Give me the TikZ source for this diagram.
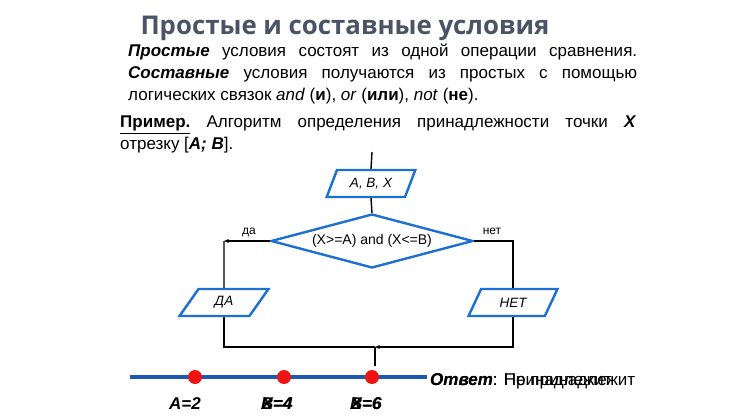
\documentclass[tikz,border=0pt]{standalone}
\usepackage{fontspec}
\setmainfont{Liberation Sans}
\newfontfamily\titlefont{Open Sans}
\usetikzlibrary{shapes.geometric, arrows.meta, positioning}

\definecolor{titlegray}{RGB}{74,84,102}
\definecolor{shapeblue}{RGB}{28,112,210}
\definecolor{axisblue}{RGB}{28,88,180}
\definecolor{dotred}{RGB}{238,20,20}

\begin{document}
\begin{tikzpicture}[
		x=1pt, y=-1pt,
		txtline/.style={anchor=base west, inner sep=0pt, font=\fontsize{17}{20}\selectfont},
		iobox/.style={trapezium, trapezium left angle=60, trapezium right angle=120, trapezium stretches=true,
			draw=shapeblue, line width=2.4pt, minimum width=89pt, minimum height=27pt, inner sep=0pt,
			font=\fontsize{13.5}{15}\selectfont\itshape},
		condbox/.style={diamond, shape aspect=3.74, draw=shapeblue, line width=2.4pt, minimum width=202pt, minimum height=54pt,
			inner sep=0pt, font=\fontsize{14}{16}\selectfont},
		flow/.style={draw=black, line width=1.4pt},
		flowarrow/.style={flow, -{Stealth[length=5pt, width=4pt]}},
		branch/.style={font=\fontsize{12}{14}\selectfont, inner sep=0pt},
		point/.style={circle, fill=dotred, minimum size=14pt, inner sep=0pt},
		ptlabel/.style={anchor=base, inner sep=0pt, font=\fontsize{17}{19}\selectfont\bfseries\itshape},
		answer/.style={anchor=base west, inner sep=0pt, font=\fontsize{17}{19}\selectfont}
		]
		\useasboundingbox[fill=white] (0,0) rectangle (750,420);
		
		% ==========================================
		% 1. HEADING AND TEXT
		% ==========================================
		\node[anchor=base, inner sep=0pt, font=\titlefont\fontsize{25.8}{30}\selectfont\bfseries, text=titlegray]
		(title) at (345,35) {Простые и составные условия};
		
		\node[txtline] (line-1) at (128,57) {\makebox[509pt][s]{\textbf{\textit{Простые}} условия состоят из одной операции сравнения.}};
		\node[txtline] (line-2) at (128,79) {\makebox[509pt][s]{\textbf{\textit{Составные}} условия получаются из простых с помощью}};
		\node[txtline] (line-3) at (128,100) {логических связок \textit{and} (\textbf{и}), \textit{or} (\textbf{или}), \textit{not} (\textbf{не}).};
		
		\node[txtline] (ex-1) at (120,128) {\makebox[516pt][s]{\textbf{\underline{Пример.}} Алгоритм определения принадлежности точки \textbf{\textit{X}}}};
		\node[txtline] (ex-2) at (120,149) {отрезку [\textbf{\textit{A; B}}].};
		
		% ==========================================
		% 2. FLOWCHART
		% ==========================================
		\coordinate (start) at (372,152);
		\node[iobox] (input) at (371,183.5) {A, B, X};
		\node[condbox] (cond) at (372,241) {(X>=A) and (X<=B)};
		\node[iobox] (yes) at (224,302.5) {ДА};
		\node[iobox] (no) at (513,302.5) {НЕТ};
		\coordinate (yesc) at (224,241);
		\coordinate (join) at (375,347);
		\coordinate (jend) at (375,366);
		
		\draw[flow] (start) -- (input.north);
		\draw[flow] (input.south) -- (cond.north);
		\draw[flowarrow] (cond.west) -- (yesc);
		\draw[flow] (yesc) -- (yes.north);
		\draw[flow] (cond.east) -| (no.north);
		\draw[flow] (yes.south) |- (join);
		\draw[flowarrow] (no.south) |- (join);
		\draw[flow] (join) -- (jend);
		
		\node[branch, anchor=base] (yes-lbl) at (249,234) {да};
		\node[branch, anchor=base] (no-lbl) at (492,234) {нет};
		
		% ==========================================
		% 3. NUMBER LINE
		% ==========================================
		\coordinate (ax-l) at (130,377);
		\coordinate (ax-r) at (427,377);
		\draw[axisblue, line width=4pt] (ax-l) -- (ax-r);
		
		\foreach \name/\xpos in {pA/195, pB/284, pC/372} {
			\node[point] (\name) at (\xpos,377) {};
		}
		\node[ptlabel] (lbl-A) at (185,409) {A=2};
		% overlapping labels, as printed
		\foreach \name/\xpos/\val in {B/277/4, C/366/6} {
			\node[ptlabel] (lbl-\name-b) at (\xpos,409) {B=\val};
			\node[ptlabel] (lbl-\name-x) at (\xpos,409) {X=\val};
		}
		
		\node[answer] (ans-1) at (430,385) {\textbf{\textit{Ответ}}: Принадлежит};
		\node[answer] (ans-2) at (430,385) {\textbf{\textit{Ответ}}: Не принадлежит};
		
	\end{tikzpicture}
\end{document}
